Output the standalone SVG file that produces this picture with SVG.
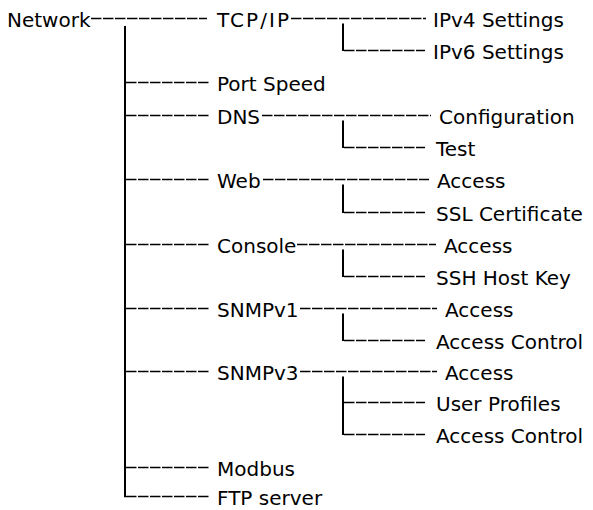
<svg xmlns="http://www.w3.org/2000/svg" width="593" height="510" viewBox="0 0 593 510">
<style>
text{font-family:"DejaVu Sans",sans-serif;font-size:20px;fill:#000}
.d{stroke:#000;stroke-width:1.3;stroke-dasharray:10.5 1.5;fill:none}
.v{stroke:#000;stroke-width:2;fill:none}
</style>
<rect width="593" height="510" fill="#fff"/>
<g id="connectors">
<line class="v" x1="125" y1="26" x2="125" y2="497.2"/>
<line class="d" x1="91" y1="18.5" x2="207" y2="18.5"/>
<line class="d" x1="291" y1="18.5" x2="426" y2="18.5"/>
<line class="v" x1="343" y1="23.5" x2="343" y2="51"/>
<line class="d" x1="344" y1="50.5" x2="425" y2="50.5"/>
<line class="d" x1="126" y1="82.5" x2="208.5" y2="82.5"/>
<line class="d" x1="126" y1="115.5" x2="208.5" y2="115.5"/>
<line class="d" x1="262" y1="115.5" x2="431" y2="115.5"/>
<line class="v" x1="343" y1="120.5" x2="343" y2="148"/>
<line class="d" x1="344" y1="147.5" x2="425" y2="147.5"/>
<line class="d" x1="126" y1="179.5" x2="208.5" y2="179.5"/>
<line class="d" x1="263" y1="179.5" x2="429" y2="179.5"/>
<line class="v" x1="343" y1="184.5" x2="343" y2="213"/>
<line class="d" x1="344" y1="212.5" x2="425" y2="212.5"/>
<line class="d" x1="126" y1="244.5" x2="208.5" y2="244.5"/>
<line class="d" x1="297" y1="244.5" x2="436" y2="244.5"/>
<line class="v" x1="343" y1="249.5" x2="343" y2="277"/>
<line class="d" x1="344" y1="276.5" x2="425" y2="276.5"/>
<line class="d" x1="126" y1="308.5" x2="208.5" y2="308.5"/>
<line class="d" x1="300" y1="308.5" x2="437" y2="308.5"/>
<line class="v" x1="343" y1="313.5" x2="343" y2="341"/>
<line class="d" x1="344" y1="340.5" x2="425" y2="340.5"/>
<line class="d" x1="126" y1="371.5" x2="208.5" y2="371.5"/>
<line class="d" x1="300" y1="371.5" x2="437" y2="371.5"/>
<line class="v" x1="343" y1="376.5" x2="343" y2="435"/>
<line class="d" x1="344" y1="402.5" x2="425" y2="402.5"/>
<line class="d" x1="344" y1="434.5" x2="425" y2="434.5"/>
<line class="d" x1="126" y1="467.5" x2="208.5" y2="467.5"/>
<line class="d" x1="126" y1="496.5" x2="208.5" y2="496.5"/>
</g>
<g id="network"><text x="7" y="26.7">Network</text></g>
<g id="tcpip"><text x="217" y="26.7" textLength="72" lengthAdjust="spacing">TCP/IP</text></g>
<g id="ipv4"><text x="433" y="26.7">IPv4 Settings</text></g>
<g id="ipv6"><text x="433" y="59">IPv6 Settings</text></g>
<g id="portspeed"><text x="217" y="91.3">Port Speed</text></g>
<g id="dns"><text x="217" y="123.6">DNS</text></g>
<g id="dns-config"><text x="439" y="123.6">Configuration</text></g>
<g id="dns-test"><text x="436" y="155.9">Test</text></g>
<g id="web"><text x="217" y="188.2">Web</text></g>
<g id="web-access"><text x="437" y="188.2">Access</text></g>
<g id="web-ssl"><text x="436" y="220.5">SSL Certificate</text></g>
<g id="console"><text x="217" y="252.8">Console</text></g>
<g id="console-access"><text x="444" y="252.8">Access</text></g>
<g id="console-ssh"><text x="436" y="285.1">SSH Host Key</text></g>
<g id="snmpv1"><text x="217" y="317.4">SNMPv1</text></g>
<g id="snmpv1-access"><text x="445" y="317.4">Access</text></g>
<g id="snmpv1-acl"><text x="436" y="348.7">Access Control</text></g>
<g id="snmpv3"><text x="217" y="380">SNMPv3</text></g>
<g id="snmpv3-access"><text x="445" y="380">Access</text></g>
<g id="snmpv3-users"><text x="436" y="411.3">User Profiles</text></g>
<g id="snmpv3-acl"><text x="436" y="442.6">Access Control</text></g>
<g id="modbus"><text x="217" y="476">Modbus</text></g>
<g id="ftp"><text x="217" y="505.3">FTP server</text></g>
</svg>
